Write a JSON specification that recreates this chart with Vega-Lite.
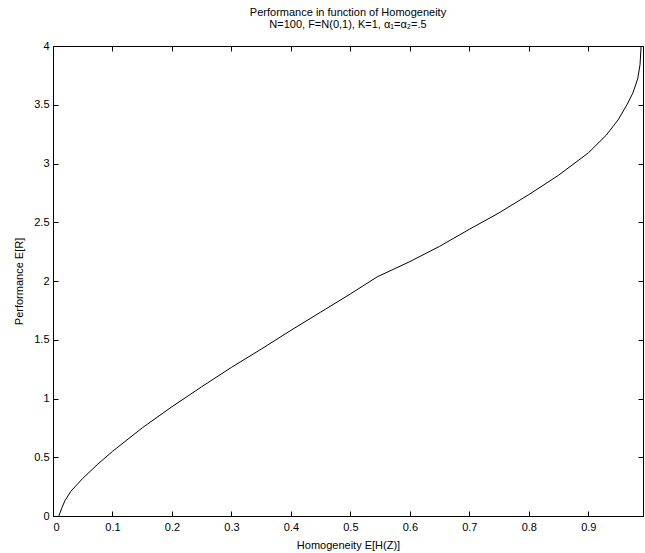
{
  "$schema": "https://vega.github.io/schema/vega-lite/v6.json",
  "autosize": {"type": "none"},
  "padding": {"left": 53, "top": 46, "right": 2, "bottom": 37},
  "width": 590,
  "height": 470,
  "background": "white",
  "config": {
    "font": "Liberation Sans",
    "view": {"stroke": null},
    "axis": {
      "grid": false,
      "domainColor": "black",
      "domainWidth": 1,
      "tickColor": "black",
      "tickWidth": 1,
      "labelColor": "black",
      "labelFontSize": 11,
      "labelFont": "Liberation Sans",
      "titleColor": "black",
      "titleFontSize": 11,
      "titleFont": "Liberation Sans",
      "titleFontWeight": "normal"
    }
  },
  "title": {
    "text": ["Performance in function of Homogeneity", "N=100, F=N(0,1), K=1, α₁=α₂=.5"],
    "fontSize": 11,
    "fontWeight": "normal",
    "font": "Liberation Sans",
    "color": "black",
    "anchor": "middle",
    "lineHeight": 12,
    "offset": 10
  },
  "data": {
    "values": [
      {"h": 0.0098, "r": 0},
      {"h": 0.015, "r": 0.07},
      {"h": 0.02, "r": 0.13},
      {"h": 0.03, "r": 0.21},
      {"h": 0.05, "r": 0.32},
      {"h": 0.075, "r": 0.44},
      {"h": 0.1, "r": 0.55},
      {"h": 0.15, "r": 0.75},
      {"h": 0.2, "r": 0.93},
      {"h": 0.25, "r": 1.1},
      {"h": 0.3, "r": 1.265},
      {"h": 0.35, "r": 1.42},
      {"h": 0.4, "r": 1.58},
      {"h": 0.45, "r": 1.735},
      {"h": 0.5, "r": 1.89},
      {"h": 0.545, "r": 2.035},
      {"h": 0.6, "r": 2.165},
      {"h": 0.65, "r": 2.295},
      {"h": 0.7, "r": 2.44},
      {"h": 0.75, "r": 2.58},
      {"h": 0.8, "r": 2.735},
      {"h": 0.85, "r": 2.9},
      {"h": 0.9, "r": 3.09},
      {"h": 0.93, "r": 3.24},
      {"h": 0.95, "r": 3.37},
      {"h": 0.965, "r": 3.5},
      {"h": 0.975, "r": 3.6},
      {"h": 0.983, "r": 3.72},
      {"h": 0.987, "r": 3.84},
      {"h": 0.9888, "r": 4.0}
    ]
  },
  "layer": [
    {
      "mark": {"type": "line", "color": "black", "strokeWidth": 1, "clip": true},
      "encoding": {
        "x": {
          "field": "h", "type": "quantitative",
          "scale": {"domain": [0, 0.992], "nice": false, "zero": false},
          "axis": {"orient": "bottom", "values": [0, 0.1, 0.2, 0.3, 0.4, 0.5, 0.6, 0.7, 0.8, 0.9], "format": "~g", "tickSize": -5, "labelPadding": 10, "title": "Homogeneity E[H(Z)]", "titlePadding": 7}
        },
        "y": {
          "field": "r", "type": "quantitative",
          "scale": {"domain": [0, 4], "nice": false},
          "axis": {"orient": "left", "values": [0, 0.5, 1, 1.5, 2, 2.5, 3, 3.5, 4], "format": "~g", "tickSize": -5, "labelPadding": 9, "title": "Performance E[R]", "titlePadding": 9}
        }
      }
    },
    {
      "mark": {"type": "line", "opacity": 0},
      "encoding": {
        "x": {
          "field": "h", "type": "quantitative",
          "axis": {"orient": "top", "labels": false, "tickSize": -5, "values": [0, 0.1, 0.2, 0.3, 0.4, 0.5, 0.6, 0.7, 0.8, 0.9], "title": null}
        },
        "y": {
          "field": "r", "type": "quantitative",
          "axis": {"orient": "right", "labels": false, "tickSize": -5, "values": [0, 0.5, 1, 1.5, 2, 2.5, 3, 3.5, 4], "title": null}
        }
      }
    }
  ],
  "resolve": {"axis": {"x": "independent", "y": "independent"}}
}
